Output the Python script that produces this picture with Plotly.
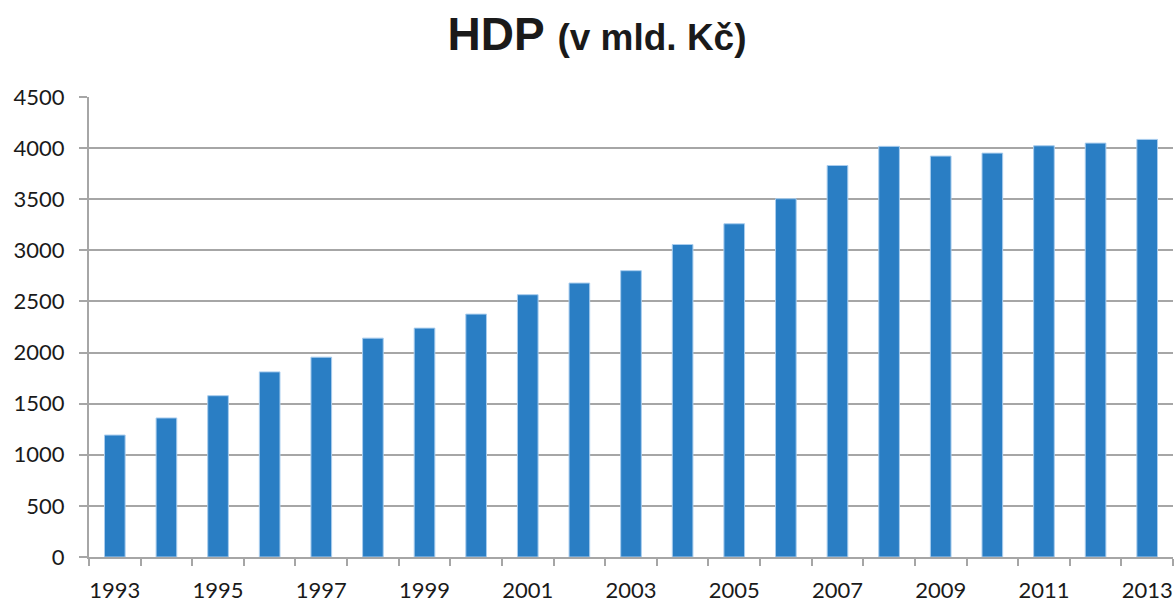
import plotly.graph_objects as go

years = list(range(1993, 2014))
hdp = [1193, 1360, 1578, 1811, 1955, 2141, 2239, 2376, 2566, 2680,
       2801, 3057, 3260, 3505, 3830, 4017, 3922, 3951, 4023, 4049, 4085]
y_ticks = [0, 500, 1000, 1500, 2000, 2500, 3000, 3500, 4000, 4500]
x_labels = [y for y in years if y % 2 == 1]
title_main = "HDP"
title_sub = "(v mld. Kč)"

fig = go.Figure()
fig.add_trace(go.Bar(
    x=years, y=hdp, width=0.4,
    marker=dict(color="#2a7ec4", line=dict(color="#a9cdee", width=1)),
))

fig.update_layout(
    width=1176, height=603,
    margin=dict(l=89, r=3, t=97, b=46, autoexpand=False),
    paper_bgcolor="white", plot_bgcolor="white",
    showlegend=False,
    font=dict(family="Lato, Arial, sans-serif", size=22, color="#1a1a1a"),
    title=dict(
        text=f"<b>{title_main}</b> <b><span style='font-size:37px'>{title_sub}</span></b>",
        font=dict(family="Liberation Sans, Arial, sans-serif", size=46, color="#1a1a1a"),
        x=597 / 1176, xanchor="center", xref="container",
        y=1 - 34 / 603, yanchor="middle", yref="container",
    ),
    bargap=0.6,
)

fig.update_xaxes(
    range=[1992.5, 2013.5],
    tickmode="array", tickvals=x_labels, ticktext=[str(v) for v in x_labels],
    ticks="", showgrid=False,
    showline=True, linecolor="#a6a6a6", linewidth=2,
    minor=dict(tickmode="array", tickvals=[y - 0.5 for y in years] + [2013.5],
               ticks="outside", ticklen=7, tickcolor="#a6a6a6", tickwidth=2, showgrid=False),
    ticklabelstandoff=13,
    automargin=False,
    fixedrange=True,
)
fig.update_yaxes(
    range=[0, 4500],
    tickmode="array", tickvals=y_ticks,
    ticks="outside", ticklen=8, tickcolor="#a6a6a6", tickwidth=2,
    showgrid=True, gridcolor="#a6a6a6", gridwidth=2,
    showline=True, linecolor="#a6a6a6", linewidth=2,
    zeroline=False,
    ticklabelstandoff=10,
    automargin=False,
    fixedrange=True,
)

fig.write_html("out.html",
               config={"displayModeBar": False},
               post_script="document.body.style.margin='0';document.body.style.overflow='hidden';")
